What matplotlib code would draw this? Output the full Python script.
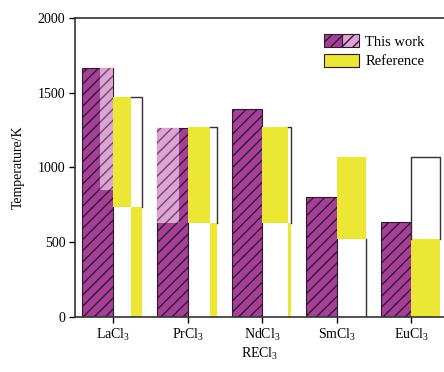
import numpy as np
import matplotlib.pyplot as plt
from matplotlib.legend_handler import HandlerTuple
from matplotlib.patches import Patch

plt.rcParams["font.family"] = "Liberation Serif"
plt.rcParams["mathtext.default"] = "regular"
plt.rcParams["hatch.linewidth"] = 1.0

labels = ["LaCl$_3$", "PrCl$_3$", "NdCl$_3$", "SmCl$_3$", "EuCl$_3$"]
this_work = [1665, 1265, 1390, 805, 635]
this_work_light = [850, 629, np.nan, np.nan, np.nan]   # start of paler hatched strip
reference = [1472, 1270, 1271, 1070, 1070]
reference_split = [736, 629, 629, 522, 522]

purple = "#a63f98"
light = "#dca3d3"
yellow = "#ece634"
edge = "#2e1a2d"

# width share of the yellow column in the upper half of each reference bar
split_frac = [0.24, 0.30, 0.345, 0.39, 0.0]
light_span = [(-0.17, 0.0), (-0.41, -0.12), None, None, None]

wp = 0.41   # purple width
wr = 0.39   # reference width

fig = plt.figure(figsize=(4.44, 3.72), dpi=100)
ax = fig.add_axes([0.169, 0.148, 0.831, 0.804])

x = np.arange(len(labels))

ax.bar(x - wp, this_work, width=wp, align="edge",
       color=purple, edgecolor=edge, linewidth=0.8, hatch="///", zorder=2)

for i in range(len(labels)):
    if light_span[i] is not None:
        a, b = light_span[i]
        ax.bar(i + a, this_work[i] - this_work_light[i], bottom=this_work_light[i],
               width=b - a, align="edge", color=light, edgecolor="#6a4a68",
               linewidth=0, hatch="///", zorder=3)

    f = split_frac[i]
    top = reference[i]
    low = reference_split[i]
    # upper part: yellow left, white right
    if f > 0:
        ax.bar(i, top - low, bottom=low, width=f, align="edge",
               color=yellow, linewidth=0, zorder=2)
    if f < wr:
        ax.bar(i + f, top - low, bottom=low, width=wr - f, align="edge",
               color="white", linewidth=0, zorder=2)
        xs = [i + f, i + wr, i + wr]
        ys = [top, top, low]
        if f == 0:
            xs = [i + f] + xs
            ys = [low] + ys
        ax.plot(xs, ys, color="#3b2a3a", linewidth=1.0, zorder=4)
    # lower part: white left, yellow right
    if f < wr:
        ax.bar(i + f, low, width=wr - f, align="edge",
               color=yellow, linewidth=0, zorder=2)
    else:
        ax.plot([i + wr, i + wr], [0, low], color="#3b2a3a", linewidth=1.0, zorder=4)

ax.set_xlim(-0.51, 4.44)
ax.set_ylim(0, 2000)
ax.set_yticks([0, 500, 1000, 1500, 2000])
ax.set_xticks(x)
ax.set_xticklabels(labels)
ax.tick_params(labelsize=10, length=4, width=1, direction="out", pad=3)
ax.spines["right"].set_visible(False)
for s in ["left", "bottom", "top"]:
    ax.spines[s].set_linewidth(1.2)
    ax.spines[s].set_color("#333333")

ax.set_ylabel("Temperature/K", fontsize=10, labelpad=9)
ax.set_xlabel("RECl$_3$", fontsize=10, labelpad=2)

h_dark = Patch(facecolor=purple, edgecolor=edge, hatch="///", linewidth=0.8)
h_light = Patch(facecolor=light, edgecolor=edge, hatch="///", linewidth=0.8)
h_ref = Patch(facecolor=yellow, edgecolor=edge, linewidth=0.8)
ax.legend([(h_dark, h_light), h_ref], ["This work", "Reference"],
          handler_map={tuple: HandlerTuple(ndivide=None, pad=0)},
          loc="upper left", bbox_to_anchor=(0.66, 0.965), frameon=False,
          fontsize=10.5, handlelength=2.4, handleheight=1.0,
          handletextpad=0.4, labelspacing=0.35, borderaxespad=0)

fig.savefig("out.png", dpi=100)
